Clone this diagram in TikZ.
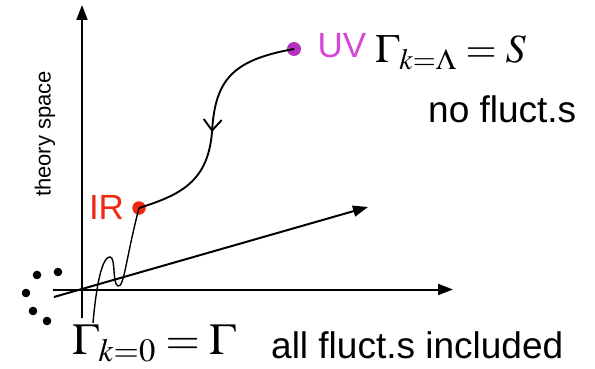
\documentclass[tikz,border=0pt]{standalone}
\usepackage{mathptmx}
\usepackage{fontspec}
\setmainfont{Liberation Sans}
\usetikzlibrary{arrows.meta,decorations.markings}
\definecolor{irred}{RGB}{238,40,18}
\definecolor{uvdot}{RGB}{180,50,190}
\definecolor{uvtext}{RGB}{212,70,212}
\tikzset{
  axis/.style={line width=2pt,-{Triangle[length=15pt,width=11pt]}},
  flow/.style={line width=1.9pt},
  flowthin/.style={line width=1.4pt},
  dot/.style={circle,fill,inner sep=0pt,minimum size=14pt},
  lbl/.style={inner sep=0pt,font=\fontsize{35}{40}\selectfont},
  tlbl/.style={inner sep=0pt,font=\fontsize{37}{42}\selectfont},
  mlbl/.style={inner sep=0pt,font=\fontsize{40}{44}\selectfont},
}
\begin{document}
\begin{tikzpicture}[x=1pt,y=-1pt]
\useasboundingbox (0,0) rectangle (595,369);
% axes
\coordinate (vb) at (82,318);
\coordinate (vt) at (82,5);
\coordinate (hl) at (53,289.5);
\coordinate (hr) at (453,289.5);
\coordinate (dl) at (54,297);
\coordinate (dr) at (368,207);
\draw[axis] (vb) -- (vt);
\draw[axis] (hl) -- (hr);
\draw[axis] (dl) -- (dr);
% dots at left
\fill (37,275) circle (4.3);
\fill (58,272) circle (4.3);
\fill (26,293) circle (4.3);
\fill (33,311) circle (4.3);
\fill (47,321) circle (4.3);
% points
\node[dot,fill=uvdot] (uv) at (294,49) {};
\node[dot,fill=irred,minimum size=13.5pt] (ir) at (139,208) {};
\coordinate (mid) at (212,132);
\coordinate (low) at (93,323);
% flow
\draw[flow,postaction=decorate,decoration={markings,mark=at position 1 with {\arrow[line width=1.9pt]{Straight Barb[length=11pt,width=18pt]}}}]
  (uv.center) .. controls (232,60) and (215,80) .. (mid);
\draw[flow] (mid) .. controls (208,182) and (180,195) .. (ir.center);
\draw[flowthin] (ir.center) .. controls (126,258) and (124,288) .. (118,286)
  .. controls (112,284) and (116,257) .. (110,257)
  .. controls (100,257) and (95,300) .. (low);
% labels
\node[lbl,text=irred] (irl) at (106.5,207.5) {IR};
\node[lbl,text=uvtext] (uvl) at (342,46) {UV};
\node[mlbl,anchor=base west] (gl) at (375,63) {$\Gamma_{k=\Lambda}=S$};
\node[tlbl,anchor=base west] (nf) at (428,122) {no fluct.s};
\node[tlbl,anchor=base west] (af) at (271,358) {all fluct.s included};
\node[mlbl,anchor=base west,font=\fontsize{44}{48}\selectfont] (g0) at (72,354) {$\Gamma_{k=0}=\Gamma$};
\node[inner sep=0pt,rotate=90,font=\fontsize{22}{24}\selectfont] (ts) at (45,134) {theory space};
\end{tikzpicture}
\end{document}
